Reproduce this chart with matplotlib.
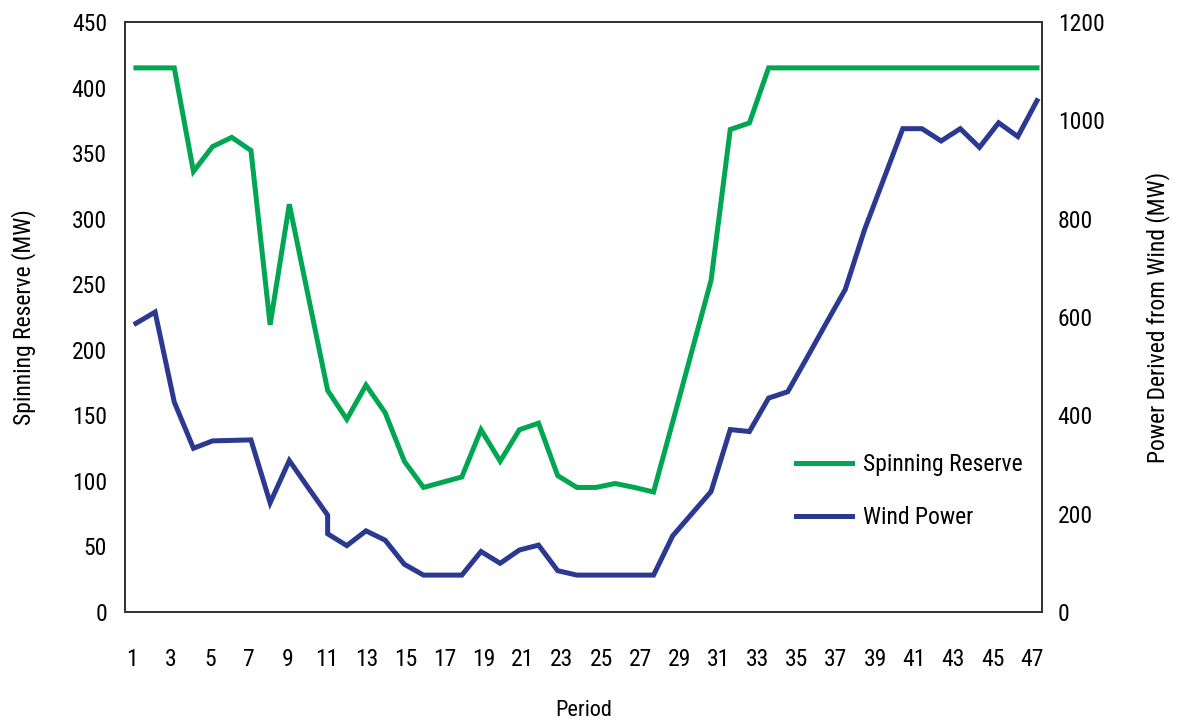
import matplotlib
matplotlib.use('Agg')
import matplotlib.pyplot as plt
from matplotlib import font_manager as fm
import numpy as np

# the reference uses a condensed sans; take a narrow face if one is installed
narrow = None
prefs = ['Liberation Sans Narrow', 'Roboto Condensed', 'Noto Sans', 'DejaVu Sans',
         'Open Sans', 'Arial Narrow']
found = [f for f in fm.fontManager.ttflist
         if f.style == 'normal' and str(f.weight) in ('400', 'normal', 'regular', 'book')
         and ('Narrow' in f.name or 'Condensed' in f.name
              or str(f.stretch) in ('condensed', 'semi-condensed', '500', '700'))]
found.sort(key=lambda f: min([i for i, p in enumerate(prefs) if p in f.name] + [99]))
if found:
    narrow = found[0]
    plt.rcParams['font.family'] = [narrow.name, 'DejaVu Sans']
    plt.rcParams['font.stretch'] = narrow.stretch
    fsize = 17
else:
    plt.rcParams['font.family'] = ['Liberation Sans', 'DejaVu Sans']
    fsize = 15

# values, 48 periods
periods = list(range(1, 49))
reserve = [415, 415, 415, 336, 355, 362, 352, 219, 311, 240,
           169, 147, 173, 152, 115, 95, 99, 103, 139, 115,
           139, 144, 104, 95, 95, 98, 95, 91.5, 145, 199,
           253, 368, 373, 415, 415, 415, 415, 415, 415, 415,
           415, 415, 415, 415, 415, 415, 415, 415]
# wind power has a vertical drop at period 11, so 11 appears twice
wind_periods = periods[:11] + [11] + periods[11:]
wind = [587, 610, 427, 333, 348, 349, 350, 222, 308, 252,
        197, 159, 135, 165, 146, 97, 75, 75, 75, 123,
        99, 126, 136, 84, 75, 75, 75, 75, 75, 155,
        200, 245, 371, 367, 435, 448, 517, 587, 656, 777,
        880, 983, 983, 958, 983, 945, 995, 967, 1040]
tick_labels = [str(k) for k in range(1, 48, 2)]

green = '#00a651'
blue = '#2b3990'

fig = plt.figure(figsize=(11.77, 7.21), dpi=100)
ax = fig.add_axes([0.1062, 0.1512, 0.7794, 0.8183])
ax2 = ax.twinx()

l1, = ax.plot(periods, reserve, color=green, lw=3.6, solid_joinstyle='miter',
              label='Spinning Reserve')
l2, = ax2.plot(wind_periods, wind, color=blue, lw=3.6, solid_joinstyle='miter',
               label='Wind Power')

ax.set_xlim(0.43, 48.28)
ax.set_ylim(0, 450)
ax2.set_ylim(0, 1200)
ax.set_yticks(range(0, 451, 50))
ax2.set_yticks(range(0, 1201, 200))

# labels in the reference sit on a slightly wider spacing than the points
ax.set_xticks(np.linspace(0.77, 47.72, len(tick_labels)))
ax.set_xticklabels(tick_labels)

for a in (ax, ax2):
    for s in a.spines.values():
        s.set_color('#333333')
        s.set_linewidth(1.3)
ax.tick_params(axis='x', length=0, pad=26, labelsize=fsize)
ax.tick_params(axis='y', length=0, pad=13, labelsize=fsize)
ax2.tick_params(axis='y', length=0, pad=11, labelsize=fsize)

ax.set_xlabel('Period', fontsize=fsize - 1, labelpad=21)
ax.set_ylabel('Spinning Reserve (MW)', fontsize=fsize, labelpad=26)
ax2.set_ylabel('Power Derived from Wind (MW)', fontsize=fsize, labelpad=29)

ax.legend(handles=[l1, l2], loc='upper left', bbox_to_anchor=(0.708, 0.305),
          frameon=False, fontsize=fsize, handlelength=2.4, handletextpad=0.45,
          labelspacing=1.25)

fig.savefig('out.png', dpi=100)
